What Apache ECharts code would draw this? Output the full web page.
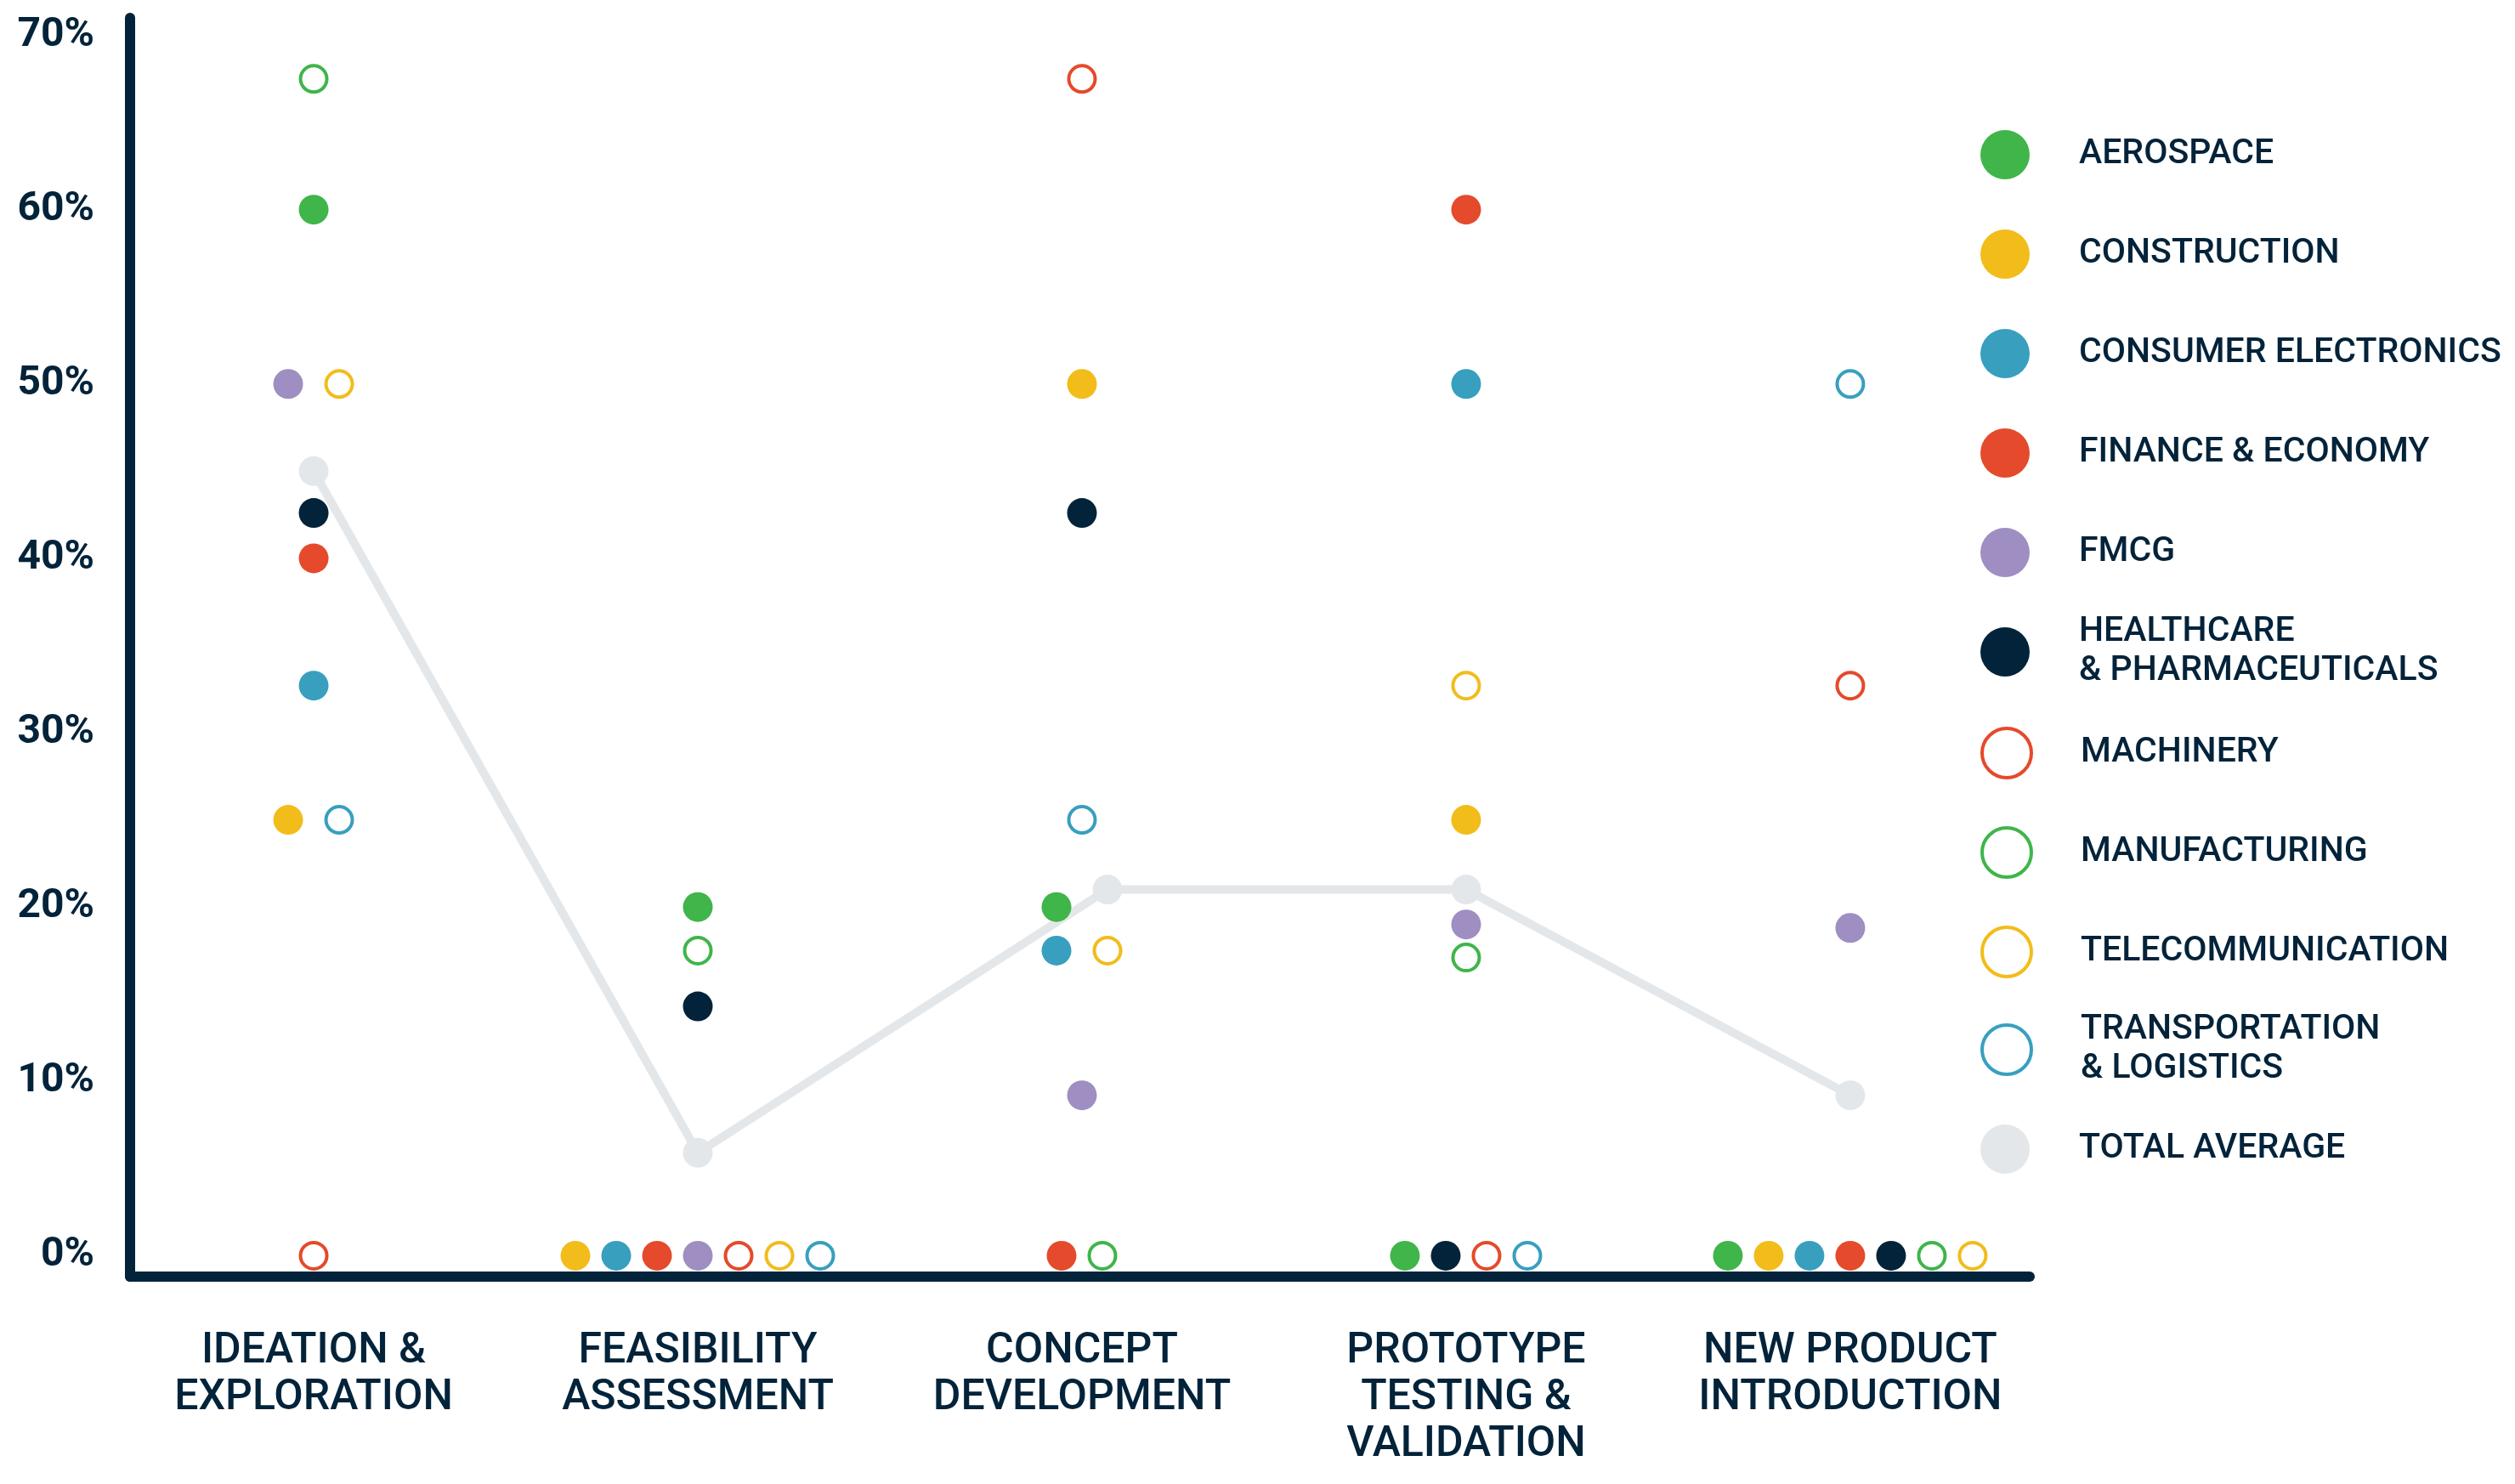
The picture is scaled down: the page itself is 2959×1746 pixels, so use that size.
<!DOCTYPE html>
<html><head><meta charset="utf-8">
<script src="https://cdn.jsdelivr.net/npm/echarts@6/dist/echarts.min.js"></script>
<style>html,body{margin:0;padding:0;background:#fff}#c{width:2959px;height:1746px}</style>
</head><body><div id="c"></div>
<script>
// ---- data ----
const categories = ['IDEATION &\nEXPLORATION', 'FEASIBILITY\nASSESSMENT', 'CONCEPT\nDEVELOPMENT', 'PROTOTYPE\nTESTING &\nVALIDATION', 'NEW PRODUCT\nINTRODUCTION'];
const seriesNames = ['AEROSPACE', 'CONSTRUCTION', 'CONSUMER ELECTRONICS', 'FINANCE & ECONOMY', 'FMCG', 'HEALTHCARE\n& PHARMACEUTICALS', 'MACHINERY', 'MANUFACTURING', 'TELECOMMUNICATION', 'TRANSPORTATION\n& LOGISTICS', 'TOTAL AVERAGE'];
const aerospace           = [60,   20,   20,   0,    0];
const construction        = [25,   0,    50,   25,   0];
const consumerElectronics = [32.7, 0,    17.5, 50,   0];
const financeEconomy      = [40,   0,    0,    60,   0];
const fmcg                = [50,   0,    9.2,  19,   18.8];
const healthcare          = [42.6, 14.3, 42.6, 0,    0];
const machinery           = [0,    0,    67.5, 0,    32.7];
const manufacturing       = [67.5, 17.5, 0,    17.1, 0];
const telecommunication   = [50,   0,    17.5, 32.7, 0];
const transportation      = [25,   0,    25,   0,    50];
const totalAverage        = [45,   5.9,  21,   21,   9.2];
const yTicks = [0, 10, 20, 30, 40, 50, 60, 70];

// ---- styles ----
const NAVY = '#03233A';
const styles = [
  {color: '#3FB54A', hollow: false},
  {color: '#F2BC1B', hollow: false},
  {color: '#389FBF', hollow: false},
  {color: '#E44A2B', hollow: false},
  {color: '#9F8EC1', hollow: false},
  {color: '#03233A', hollow: false},
  {color: '#E44A2B', hollow: true},
  {color: '#3FB54A', hollow: true},
  {color: '#F2BC1B', hollow: true},
  {color: '#389FBF', hollow: true},
  {color: '#E4E7EA', hollow: false}
];
const valueSets = [aerospace, construction, consumerElectronics, financeEconomy, fmcg, healthcare, machinery, manufacturing, telecommunication, transportation, totalAverage];

const GRID = {left: 153, top: 21, width: 2235, height: 1481};
const X_MIN = -0.478, X_MAX = 4.467;
const PX_PER_UNIT = GRID.width / (X_MAX - X_MIN);

// dodge overlapping points within each category
const xPos = valueSets.map(() => []);
for (let c = 0; c < categories.length; c++) {
  const items = valueSets.map((vals, s) => ({s, v: vals[c]}));
  const sorted = items.slice().sort((a, b) => a.v - b.v || a.s - b.s);
  const clusters = [];
  let cur = [sorted[0]];
  for (let i = 1; i < sorted.length; i++) {
    if (sorted[i].v - sorted[i - 1].v < 1.5) cur.push(sorted[i]);
    else { clusters.push(cur); cur = [sorted[i]]; }
  }
  clusters.push(cur);
  clusters.forEach(cl => {
    cl.sort((a, b) => a.s - b.s);
    const gap = cl[0].v === 0 ? 48 : 60;
    cl.forEach((it, k) => { xPos[it.s][c] = c + (k - (cl.length - 1) / 2) * gap / PX_PER_UNIT; });
  });
}

function itemStyleFor(st) {
  return st.hollow
    ? {color: '#ffffff', borderColor: st.color, borderWidth: 4, opacity: 1}
    : {color: st.color, borderWidth: 0, opacity: 1};
}

const series = [];
for (let s = 0; s < 10; s++) {
  series.push({
    name: seriesNames[s], type: 'scatter', z: 3,
    symbol: 'circle', symbolSize: styles[s].hollow ? 31 : 35,
    itemStyle: itemStyleFor(styles[s]),
    emphasis: {disabled: true},
    data: valueSets[s].map((v, c) => [xPos[s][c], v])
  });
}
series.push({
  name: seriesNames[10], type: 'line', z: 1,
  symbol: 'circle', symbolSize: 35, showSymbol: true, showAllSymbol: true,
  lineStyle: {color: styles[10].color, width: 10},
  itemStyle: {color: styles[10].color, opacity: 1},
  emphasis: {disabled: true},
  data: totalAverage.map((v, c) => [xPos[10][c], v])
});

// legend: one entry per row, rows on a fixed pitch
const LEG = {left: 2330, firstCenter: 182, pitch: 117, icon: 58, lineHeight: 46};
const legends = seriesNames.map((n, s) => {
  const lines = n.split('\n').length;
  const half = Math.max(LEG.icon / 2, lines * LEG.lineHeight / 2);
  return {
    orient: 'vertical', left: LEG.left, top: LEG.firstCenter + LEG.pitch * s - half,
    padding: 0, itemWidth: LEG.icon, itemHeight: LEG.icon,
    selectedMode: false,
    textStyle: {fontFamily: 'Roboto', fontSize: 41, fontWeight: 500, color: NAVY, lineHeight: LEG.lineHeight, padding: [0, 0, 0, 53]},
    data: [{name: n, icon: 'circle', itemStyle: itemStyleFor(styles[s])}]
  };
});

const axisLineStyle = {color: NAVY, width: 12, cap: 'round'};
const chart = echarts.init(document.getElementById('c'));
chart.setOption({
  animation: false,
  backgroundColor: '#ffffff',
  grid: {left: GRID.left, top: GRID.top, width: GRID.width, height: GRID.height, containLabel: false, outerBoundsMode: 'none'},
  xAxis: {
    type: 'value', min: X_MIN, max: X_MAX,
    axisLine: {show: true, onZero: false, lineStyle: axisLineStyle},
    axisTick: {show: false}, splitLine: {show: false},
    axisLabel: {
      customValues: categories.map((_, i) => i),
      formatter: v => categories[Math.round(v)],
      fontFamily: 'Roboto', fontWeight: 500, fontSize: 50, lineHeight: 55,
      color: NAVY, margin: 61, align: 'center', verticalAlign: 'top'
    }
  },
  yAxis: {
    type: 'value', min: -1.2, max: 71,
    axisLine: {show: true, onZero: false, lineStyle: axisLineStyle},
    axisTick: {show: false}, splitLine: {show: false},
    axisLabel: {
      customValues: yTicks,
      formatter: v => v + '%',
      fontFamily: 'Roboto', fontWeight: 'bold', fontSize: 48,
      color: NAVY, margin: 42
    }
  },
  legend: legends,
  series: series
});
</script>
</body></html>
